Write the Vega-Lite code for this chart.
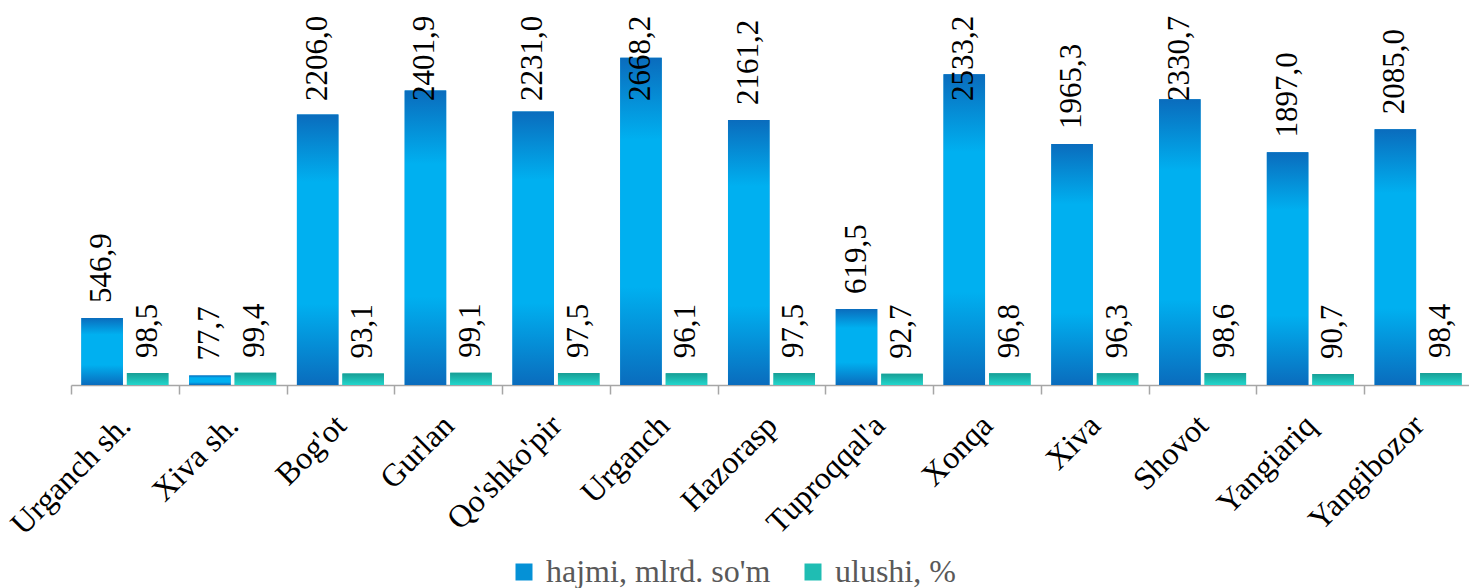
{
  "$schema": "https://vega.github.io/schema/vega-lite/v6.json",
  "width": 1401,
  "height": 370,
  "autosize": {"type": "none"},
  "padding": {"left": 71, "top": 15, "right": 0, "bottom": 203},
  "background": "white",
  "config": {
    "locale": {"number": {"decimal": ",", "thousands": " ", "grouping": [3], "currency": ["", ""]}},
    "view": {"stroke": null},
    "font": "Liberation Serif"
  },
  "data": {
    "values": [
      {"district": "Urganch sh.", "series": "hajmi, mlrd. so'm", "value": 546.9},
      {"district": "Urganch sh.", "series": "ulushi, %", "value": 98.5},
      {"district": "Xiva sh.", "series": "hajmi, mlrd. so'm", "value": 77.7},
      {"district": "Xiva sh.", "series": "ulushi, %", "value": 99.4},
      {"district": "Bog'ot", "series": "hajmi, mlrd. so'm", "value": 2206.0},
      {"district": "Bog'ot", "series": "ulushi, %", "value": 93.1},
      {"district": "Gurlan", "series": "hajmi, mlrd. so'm", "value": 2401.9},
      {"district": "Gurlan", "series": "ulushi, %", "value": 99.1},
      {"district": "Qo'shko'pir", "series": "hajmi, mlrd. so'm", "value": 2231.0},
      {"district": "Qo'shko'pir", "series": "ulushi, %", "value": 97.5},
      {"district": "Urganch", "series": "hajmi, mlrd. so'm", "value": 2668.2},
      {"district": "Urganch", "series": "ulushi, %", "value": 96.1},
      {"district": "Hazorasp", "series": "hajmi, mlrd. so'm", "value": 2161.2},
      {"district": "Hazorasp", "series": "ulushi, %", "value": 97.5},
      {"district": "Tuproqqal'a", "series": "hajmi, mlrd. so'm", "value": 619.5},
      {"district": "Tuproqqal'a", "series": "ulushi, %", "value": 92.7},
      {"district": "Xonqa", "series": "hajmi, mlrd. so'm", "value": 2533.2},
      {"district": "Xonqa", "series": "ulushi, %", "value": 96.8},
      {"district": "Xiva", "series": "hajmi, mlrd. so'm", "value": 1965.3},
      {"district": "Xiva", "series": "ulushi, %", "value": 96.3},
      {"district": "Shovot", "series": "hajmi, mlrd. so'm", "value": 2330.7},
      {"district": "Shovot", "series": "ulushi, %", "value": 98.6},
      {"district": "Yangiariq", "series": "hajmi, mlrd. so'm", "value": 1897.0},
      {"district": "Yangiariq", "series": "ulushi, %", "value": 90.7},
      {"district": "Yangibozor", "series": "hajmi, mlrd. so'm", "value": 2085.0},
      {"district": "Yangibozor", "series": "ulushi, %", "value": 98.4}
    ]
  },
  "encoding": {
    "x": {
      "field": "district",
      "type": "nominal",
      "sort": null,
      "scale": {"paddingInner": 0, "paddingOuter": 0},
      "axis": {
        "title": null,
        "labelAngle": -45,
        "labelAlign": "right",
        "labelBaseline": "middle",
        "labelFont": "Liberation Serif",
        "labelFontSize": 32,
        "labelColor": "black",
        "labelPadding": 26,
        "labelLimit": 500,
        "labelOverlap": false,
        "tickBand": "extent",
        "tickSize": 9,
        "tickColor": "#a6a6a6",
        "tickWidth": 1.5,
        "domainColor": "#a6a6a6",
        "domainWidth": 1.5
      }
    },
    "xOffset": {
      "field": "series",
      "type": "nominal",
      "sort": null,
      "scale": {"domain": ["hajmi, mlrd. so'm", "ulushi, %"], "paddingInner": 0.088, "paddingOuter": 0.228}
    }
  },
  "layer": [
    {
      "mark": {"type": "bar"},
      "encoding": {
        "y": {
          "field": "value",
          "type": "quantitative",
          "scale": {"domain": [0, 3017], "nice": false},
          "axis": null
        },
        "color": {
          "field": "series",
          "type": "nominal",
          "sort": null,
          "scale": {
            "domain": ["hajmi, mlrd. so'm", "ulushi, %"],
            "range": ["#0591d6", "#1fbdb3"]
          },
          "legend": {
            "orient": "none",
            "legendX": 437,
            "legendY": 541,
            "direction": "horizontal",
            "title": null,
            "symbolType": "square",
            "symbolSize": 289,
            "symbolStrokeWidth": 0,
            "symbolOpacity": 1,
            "labelFont": "Liberation Serif",
            "labelFontSize": 32,
            "labelLimit": 500,
            "labelColor": "#595959",
            "labelOffset": 6,
            "columnPadding": 26,
            "padding": 0
          }
        }
      }
    },
    {
      "transform": [{"filter": "datum.series === \"hajmi, mlrd. so'm\""}],
      "mark": {
        "type": "bar",
        "color": {"gradient": "linear", "x1": 0, "y1": 0, "x2": 0, "y2": 1, "stops": [
          {"offset": 0, "color": "#0a6cbd"},
          {"offset": 0.25, "color": "#00b0f0"},
          {"offset": 0.7, "color": "#00b0f0"},
          {"offset": 1, "color": "#0a6cbd"}
        ]}
      },
      "encoding": {
        "y": {
          "field": "value",
          "type": "quantitative",
          "scale": {"domain": [0, 3017], "nice": false},
          "axis": null
        }
      }
    },
    {
      "transform": [{"filter": "datum.series === 'ulushi, %'"}],
      "mark": {
        "type": "bar",
        "color": {"gradient": "linear", "x1": 0, "y1": 0, "x2": 0, "y2": 1, "stops": [
          {"offset": 0, "color": "#189e95"},
          {"offset": 1, "color": "#22d6cc"}
        ]}
      },
      "encoding": {
        "y": {
          "field": "value",
          "type": "quantitative",
          "scale": {"domain": [0, 3017], "nice": false},
          "axis": null
        }
      }
    },
    {
      "mark": {"type": "text", "angle": -90, "align": "left", "baseline": "middle", "font": "Liberation Serif", "fontSize": 31, "fill": "black"},
      "encoding": {
        "y": {
          "field": "value",
          "type": "quantitative",
          "scale": {"domain": [0, 2194], "range": [355, 86], "clamp": true, "nice": false, "zero": false},
          "axis": null
        },
        "text": {"field": "value", "type": "quantitative", "format": ".1f"}
      }
    }
  ],
  "resolve": {"scale": {"y": "independent"}}
}
